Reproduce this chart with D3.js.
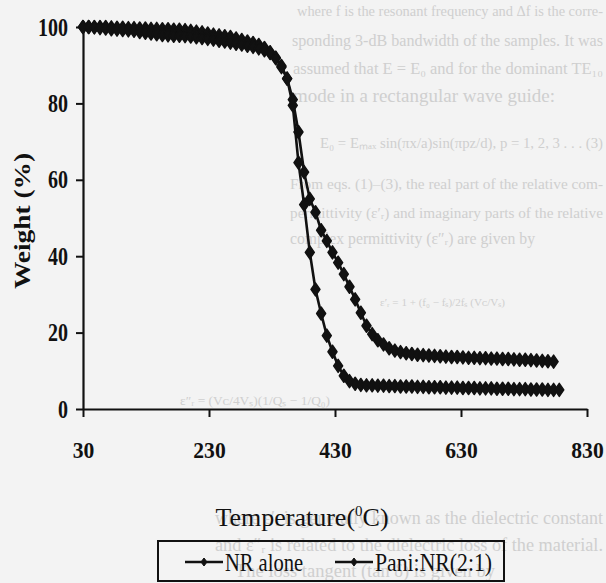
<!DOCTYPE html>
<html>
<head>
<meta charset="utf-8">
<script src="https://cdn.jsdelivr.net/npm/d3@7"></script>
<style>
  html, body { margin: 0; padding: 0; background: #f3f3f3; }
  svg { display: block; }
</style>
</head>
<body>
<svg id="chart" width="606" height="583"></svg>
<script>
// ---------------- data ----------------
const temperatures = [30,39,48,57,66,75,84,93,102,111,120,129,138,147,156,165,174,183,192,201,
  210,219,228,237,246,255,264,273,282,291,300,309,318,327,336,345,354,363,372,381,
  390,399,408,417,426,435,444,453,462,471,480,489,498,507,516,525,534,543,552,561,
  570,579,588,597,606,615,624,633,642,651,660,669,678,687,696,705,714,723,732,741,
  750,759,768,777,786];

const nrAlone = [100,100,100,100,100,99.9,99.8,99.8,99.7,99.7,99.6,99.6,99.5,99.5,99.4,99.4,99.3,99.3,99.2,99.0,
  98.8,98.6,98.3,98.0,97.8,97.6,97.4,97.0,96.6,96.2,95.8,95.3,94.5,93.4,92.0,89.8,86.5,79.5,64.5,53.5,
  41.0,31.3,25.0,19.2,15.0,11.3,8.7,7.3,6.6,6.3,6.2,6.2,6.1,6.1,6.0,6.0,5.9,5.9,5.9,5.8,
  5.8,5.7,5.7,5.7,5.6,5.6,5.6,5.5,5.5,5.5,5.4,5.4,5.4,5.3,5.3,5.3,5.2,5.2,5.2,5.1,
  5.1,5.1,5.0,5.0,5.0];

const paniNR = [100,100,99.9,99.7,99.6,99.4,99.3,99.2,99.1,99.0,98.7,98.5,98.3,98.1,97.9,97.8,97.7,97.7,97.6,97.5,
  97.3,97.1,96.9,96.7,96.4,96.2,95.9,95.6,95.4,95.1,94.8,94.4,93.9,93.2,91.8,89.5,86.5,81.0,72.5,62.0,
  55.0,51.5,46.8,44.0,41.0,38.3,35.3,32.0,28.7,25.2,21.8,19.6,18.0,16.9,15.9,15.3,14.9,14.6,14.4,14.2,
  14.1,14.0,13.9,13.8,13.7,13.6,13.6,13.5,13.4,13.4,13.3,13.3,13.2,13.2,13.1,13.1,13.0,12.9,12.9,12.8,
  12.7,12.6,12.5,12.4];

const seriesNames = ["NR alone", "Pani:NR(2:1)"];
const xTickValues = [30, 230, 430, 630, 830];
const yTickValues = [0, 20, 40, 60, 80, 100];

// faint text of the scanned page that shows behind the chart
const pageLines = [
  "where f is the resonant frequency and \u0394f is the corre-",
  "sponding 3-dB bandwidth of the samples. It was",
  "assumed that E = E\u2080 and for the dominant TE\u2081\u2080",
  "mode in a rectangular wave guide:",
  "E\u2080 = E\u2098\u2090\u2093 sin(\u03C0x/a)sin(\u03C0pz/d), p = 1, 2, 3 . . .  (3)",
  "From eqs. (1)\u2013(3), the real part of the relative com-",
  "permittivity (\u03B5\u2032\u1D63) and imaginary parts of the relative",
  "complex permittivity (\u03B5\u2033\u1D63) are given by",
  "\u03B5\u2032\u1D63 = 1 + (f\u2080 \u2212 f\u209B)/2f\u209B (V\u1D04/V\u209B)",
  "\u03B5\u2033\u1D63 = (V\u1D04/4V\u209B)(1/Q\u209B \u2212 1/Q\u2080)",
  "where \u03B5\u2032\u1D63 is generally known as the dielectric constant",
  "and \u03B5\u2033\u1D63 is related to the dielectric loss of the material.",
  "The loss tangent (tan \u03B4) is given by"
];

// ---------------- drawing ----------------
const svg = d3.select("#chart");
const W = 606, H = 583;

svg.append("rect").attr("width", W).attr("height", H).attr("fill", "#f3f3f3");

// background page text (layout of the faint lines)
const pageX = [297, 292, 293, 293, 320, 290, 290, 290, 380, 180, 215, 215, 235];
const pageY = [16, 46, 74, 102, 148, 189, 218, 244, 306, 405, 524, 551, 577];
const pageLen = [306, 311, 310, 262, 283, 313, 313, 245, 125, 150, 388, 388, 260];
svg.append("g")
  .selectAll("text")
  .data(pageLines)
  .join("text")
  .attr("x", (d, i) => pageX[i])
  .attr("y", (d, i) => pageY[i])
  .attr("font-family", "Liberation Serif, serif")
  .attr("font-size", 18)
  .attr("fill", "#cfcfcf")
  .text(d => d)
  .each(function (d, i) {
    const natural = this.getComputedTextLength();
    const fs = Math.min(19, 18 * pageLen[i] / natural);
    d3.select(this).attr("font-size", fs.toFixed(2))
      .attr("textLength", pageLen[i]).attr("lengthAdjust", "spacingAndGlyphs");
  });

const x = d3.scaleLinear().domain([30, 830]).range([83, 587]);
const y = d3.scaleLinear().domain([0, 100]).range([409, 27]);

const fontFam = "Liberation Serif, Times New Roman, serif";

// X axis
const gx = svg.append("g")
  .attr("transform", `translate(0,${y(0)})`)
  .call(d3.axisBottom(x).tickValues(xTickValues).tickSize(8).tickSizeOuter(0).tickPadding(25).tickFormat(d3.format("d")));
gx.select(".domain").attr("stroke", "#111").attr("stroke-width", 2.2);
gx.selectAll(".tick line").attr("stroke", "#111").attr("stroke-width", 2);
gx.selectAll(".tick text")
  .attr("font-family", fontFam).attr("font-size", 23).attr("font-weight", "bold").attr("fill", "#111")
  .attr("textLength", d => String(d).length * 10.8).attr("lengthAdjust", "spacingAndGlyphs");

// Y axis
const gy = svg.append("g")
  .attr("transform", `translate(${x(30)},0)`)
  .call(d3.axisLeft(y).tickValues(yTickValues).tickSize(7).tickSizeOuter(0).tickPadding(8));
gy.select(".domain").attr("stroke", "#111").attr("stroke-width", 2.2);
gy.selectAll(".tick line").attr("stroke", "#111").attr("stroke-width", 2);
gy.selectAll(".tick text")
  .attr("font-family", fontFam).attr("font-size", 25).attr("font-weight", "bold").attr("fill", "#111")
  .attr("textLength", d => String(d).length * 10).attr("lengthAdjust", "spacingAndGlyphs");

// axis titles
svg.append("text")
  .attr("transform", "translate(30,221) rotate(-90)")
  .attr("text-anchor", "middle")
  .attr("font-family", fontFam).attr("font-size", 24).attr("font-weight", "bold").attr("fill", "#111")
  .attr("textLength", 136).attr("lengthAdjust", "spacingAndGlyphs")
  .text("Weight (%)");

const xt = svg.append("text")
  .attr("x", 302).attr("y", 526)
  .attr("text-anchor", "middle")
  .attr("font-family", fontFam).attr("font-size", 26).attr("fill", "#111");
xt.append("tspan").text("Temperature(");
xt.append("tspan").attr("font-size", 15).attr("dy", -10).text("0");
xt.append("tspan").attr("dy", 10).text("C)");

// series
const line = d3.line().x(d => x(d[0])).y(d => y(d[1]));
const diamondPath = "M0,-6.5L4.5,0L0,6.5L-4.5,0Z";
const allSeries = [nrAlone, paniNR];

allSeries.forEach(vals => {
  const pts = vals.map((v, i) => [temperatures[i], v]);
  const g = svg.append("g");
  g.append("path").datum(pts).attr("d", line)
    .attr("fill", "none").attr("stroke", "#111").attr("stroke-width", 2.6);
  g.selectAll("path.m").data(pts).join("path").attr("class", "m")
    .attr("d", diamondPath)
    .attr("transform", d => `translate(${x(d[0])},${y(d[1])})`)
    .attr("fill", "#111").attr("stroke", "#111").attr("stroke-width", 1.5)
    .attr("stroke-linejoin", "round");
});

// legend
const lg = svg.append("g");
lg.append("rect").attr("x", 158).attr("y", 541).attr("width", 346).attr("height", 40)
  .attr("fill", "none").attr("stroke", "#111").attr("stroke-width", 2);
const legX = [185, 335];
const legW = [78, 117];
seriesNames.forEach((name, i) => {
  const cy = 562;
  lg.append("line").attr("x1", legX[i]).attr("x2", legX[i] + 38).attr("y1", cy).attr("y2", cy)
    .attr("stroke", "#111").attr("stroke-width", 2.4);
  lg.append("path").attr("d", "M0,-4L3,0L0,4L-3,0Z")
    .attr("transform", `translate(${legX[i] + 19},${cy})`).attr("fill", "#111")
    .attr("stroke", "#111").attr("stroke-width", 1);
  lg.append("text").attr("x", legX[i] + 40).attr("y", cy + 9)
    .attr("font-family", fontFam).attr("font-size", 25).attr("fill", "#111")
    .attr("textLength", legW[i]).attr("lengthAdjust", "spacingAndGlyphs")
    .text(name);
});
</script>
</body>
</html>
